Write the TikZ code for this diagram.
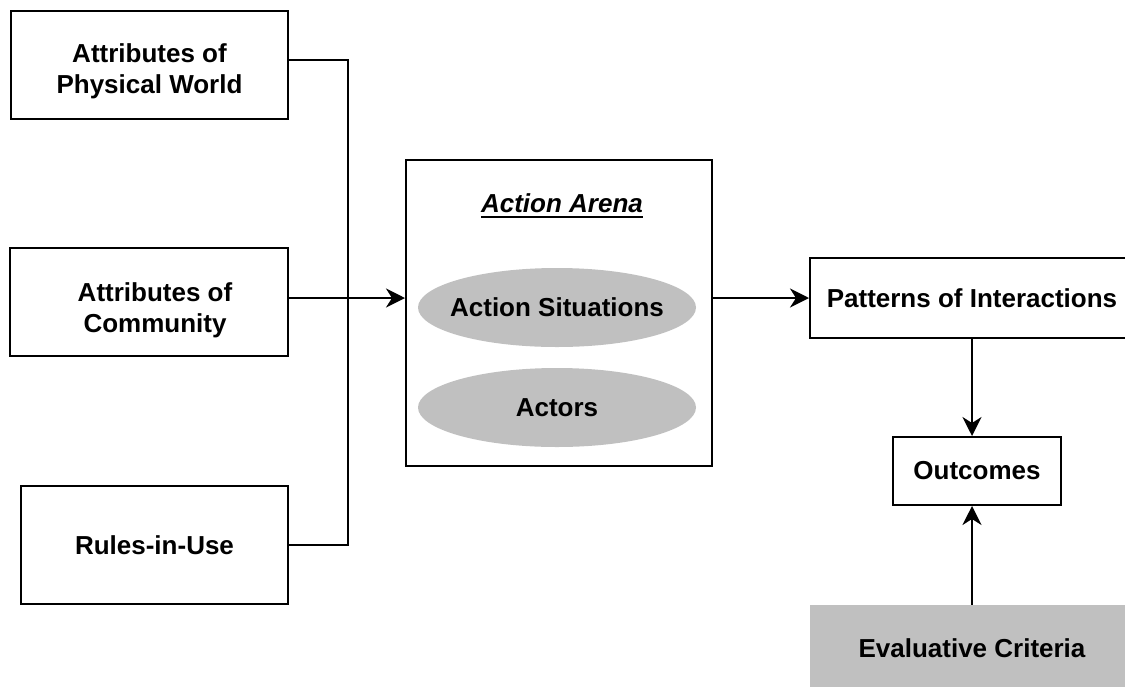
\documentclass[tikz,border=0pt]{standalone}
\usepackage{fontspec}
\setmainfont{Liberation Sans}
\usetikzlibrary{shapes.geometric,arrows.meta}
\definecolor{shade}{HTML}{C0C0C0}
% heavy underline for the arena title
\newcommand{\thickul}[1]{{\setbox0\hbox{#1}\rlap{\raisebox{-5pt}{\rule{\wd0}{1.8pt}}}\box0}}
\begin{document}
\begin{tikzpicture}[x=1pt,y=-1pt,
  lbl/.style={font=\fontsize{26}{31}\selectfont\bfseries,align=center,inner sep=0pt},
  frame/.style={draw,line width=2pt,rectangle,inner sep=0pt},
  box/.style={lbl,frame},
  oval/.style={ellipse,fill=shade,inner sep=0pt,minimum width=278pt,minimum height=79pt},
  link/.style={line width=2pt},
  arr/.style={link,-{Stealth[length=19pt,width=19pt,inset=6pt]}}
]
\useasboundingbox (0,0) rectangle (1125,686);
\clip (0,0) rectangle (1125,686);

% inputs on the left
\node[frame,minimum width=277pt,minimum height=108pt] (phys) at (149.5,65) {};
\node[lbl] (physlabel) at (149.5,71) {Attributes of\\Physical World};
\node[frame,minimum width=278pt,minimum height=108pt] (comm) at (149,302) {};
\node[lbl] (commlabel) at (155,310) {Attributes of\\Community};
\node[box,minimum width=267pt,minimum height=118pt] (rules) at (154.5,545) {Rules-in-Use};

% action arena with its two components
\node[frame,minimum width=306pt,minimum height=306pt] (arena) at (559,313) {};
\node[lbl] (arenatitle) at (562,206) {\thickul{\itshape Action Arena}};
\node[oval] (sit) at (557,307.5) {};
\node[lbl] (sitlabel) at (sit.center) {Action Situations};
\node[oval] (actors) at (557,407.5) {};
\node[lbl] (actorslabel) at (actors.center) {Actors};

% right-hand chain
\node[box,minimum width=324pt,minimum height=80pt] (pat) at (972,298) {Patterns of Interactions};
\node[box,minimum width=168pt,minimum height=68pt] (out) at (977,471) {Outcomes};
\node[lbl,fill=shade,minimum width=324pt,minimum height=86pt] (eval) at (972,648) {Evaluative Criteria};

% collecting bus from the three inputs
\coordinate (bustop) at (348,60);
\coordinate (busbot) at (348,545);
\coordinate (busmid) at (348,298);
\draw[link] (phys.east |- bustop) -- (bustop) -- (busbot) -- (rules.east |- busbot);
\draw[arr] (comm.east |- busmid) -- (arena.west |- busmid);

% flow to patterns and outcomes
\draw[arr] (arena.east |- pat.west) -- (pat.west);
\draw[arr] (pat.south) -- (pat.south |- out.north);
\draw[arr] (eval.north) -- (eval.north |- out.south);
\end{tikzpicture}
\end{document}
